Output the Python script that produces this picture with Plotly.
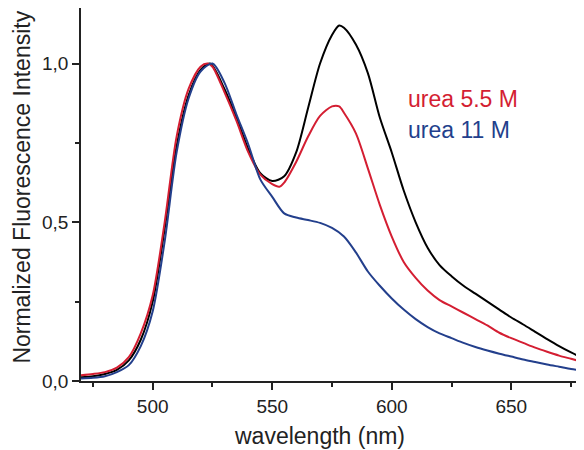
import plotly.graph_objects as go

# wavelength grids (nm)
wl_black = [470, 475, 480, 485, 490, 495, 500, 505, 510, 515, 520, 524, 530, 535, 540, 545, 550, 555,
            560, 565, 570, 575, 578, 580, 585, 590, 595, 600, 605, 610, 615, 620, 625, 630, 635, 640,
            645, 650, 655, 660, 665, 670, 675, 680]
int_black = [0.012, 0.015, 0.022, 0.035, 0.065, 0.13, 0.25, 0.48, 0.74, 0.90, 0.98, 1.0, 0.92, 0.83,
             0.73, 0.655, 0.63, 0.645, 0.72, 0.86, 1.0, 1.09, 1.12, 1.113, 1.06, 0.97, 0.83, 0.72,
             0.60, 0.50, 0.42, 0.365, 0.33, 0.30, 0.275, 0.25, 0.225, 0.20, 0.178, 0.155, 0.132,
             0.11, 0.09, 0.072]

wl_red = [470, 475, 480, 485, 490, 495, 500, 505, 510, 515, 520, 523, 525, 530, 535, 540, 545, 550,
          553, 555, 560, 565, 570, 575, 578, 580, 585, 590, 595, 600, 605, 610, 615, 620, 625, 630,
          635, 640, 645, 650, 655, 660, 665, 670, 675, 680]
int_red = [0.018, 0.022, 0.028, 0.042, 0.075, 0.15, 0.27, 0.50, 0.77, 0.92, 0.99, 1.0, 0.99, 0.91,
           0.82, 0.72, 0.65, 0.62, 0.612, 0.625, 0.69, 0.77, 0.835, 0.865, 0.865, 0.845, 0.78, 0.67,
           0.555, 0.455, 0.375, 0.325, 0.285, 0.255, 0.235, 0.215, 0.195, 0.175, 0.152, 0.135,
           0.12, 0.105, 0.092, 0.08, 0.07, 0.06]

wl_blue = [470, 475, 480, 485, 490, 495, 500, 505, 510, 515, 520, 525, 530, 535, 540, 545, 550, 555,
           560, 565, 570, 575, 580, 585, 590, 595, 600, 605, 610, 615, 620, 625, 630, 635, 640, 645,
           650, 655, 660, 665, 670, 675, 680]
int_blue = [0.008, 0.01, 0.015, 0.028, 0.05, 0.11, 0.22, 0.44, 0.72, 0.89, 0.975, 1.0, 0.94, 0.84,
            0.745, 0.635, 0.58, 0.528, 0.515, 0.507, 0.498, 0.482, 0.455, 0.405, 0.345, 0.30,
            0.26, 0.225, 0.195, 0.17, 0.15, 0.135, 0.12, 0.107, 0.096, 0.086, 0.077, 0.068, 0.06,
            0.052, 0.045, 0.038, 0.032]

labels = ["urea 5.5 M", "urea 11 M"]
y_ticks = [0.0, 0.5, 1.0]
y_ticktext = ["0,0", "0,5", "1,0"]
x_ticks = [500, 550, 600, 650]
x_title = "wavelength (nm)"
y_title = "Normalized Fluorescence Intensity"

BLACK = "#000000"
RED = "#D41E32"
BLUE = "#233F8C"
AX = "#222222"
FONT = "Liberation Sans, Arial, sans-serif"

fig = go.Figure()
fig.add_trace(go.Scatter(x=wl_black, y=int_black, mode="lines",
                         line=dict(color=BLACK, width=2, shape="spline", smoothing=0.8)))
fig.add_trace(go.Scatter(x=wl_red, y=int_red, mode="lines", name=labels[0],
                         line=dict(color=RED, width=2, shape="spline", smoothing=0.8)))
fig.add_trace(go.Scatter(x=wl_blue, y=int_blue, mode="lines", name=labels[1],
                         line=dict(color=BLUE, width=2, shape="spline", smoothing=0.8)))

fig.add_annotation(x=0.647, y=0.756, xref="paper", yref="paper", xanchor="left", yanchor="middle",
                   text=labels[0], showarrow=False, font=dict(family=FONT, size=23, color=RED))
fig.add_annotation(x=0.647, y=0.673, xref="paper", yref="paper", xanchor="left", yanchor="middle",
                   text=labels[1], showarrow=False, font=dict(family=FONT, size=23, color=BLUE))

# axis titles placed as annotations for exact positioning
fig.add_annotation(x=0.476, y=-0.147, xref="paper", yref="paper", xanchor="center", yanchor="middle",
                   text=x_title, showarrow=False, font=dict(family=FONT, size=23, color=AX))
fig.add_annotation(x=-0.145, y=0.519, xref="paper", yref="paper", xanchor="left", yanchor="middle",
                   text=y_title, textangle=-90, showarrow=False, borderpad=0,
                   font=dict(family=FONT, size=23, color=AX))

# page body adds an 8px offset; figure sized to fill the remaining 576x442 area
fig.update_layout(
    width=576, height=442,
    margin=dict(l=73, r=1, t=0, b=69, autoexpand=False),
    plot_bgcolor="white", paper_bgcolor="white",
    font=dict(family=FONT, color=AX),
    showlegend=False,
)
fig.update_xaxes(
    range=[470, 680], showgrid=False, zeroline=False, automargin=False,
    showline=True, linecolor=AX, linewidth=1.5,
    ticks="outside", ticklen=7, tickwidth=1.5, tickcolor=AX,
    tickvals=x_ticks, tickfont=dict(size=19, family=FONT, color=AX),
    minor=dict(ticks="outside", ticklen=4, tickwidth=1.5, tickcolor=AX, dtick=25, tick0=475),
)
fig.update_yaxes(
    range=[0, 1.175], showgrid=False, zeroline=False, automargin=False,
    showline=True, linecolor=AX, linewidth=1.5,
    ticks="outside", ticklen=7, tickwidth=1.5, tickcolor=AX,
    tickvals=y_ticks, ticktext=y_ticktext, tickfont=dict(size=19, family=FONT, color=AX),
    minor=dict(ticks="outside", ticklen=4, tickwidth=1.5, tickcolor=AX, dtick=0.25, tick0=0),
)

fig.write_html("out.html")
